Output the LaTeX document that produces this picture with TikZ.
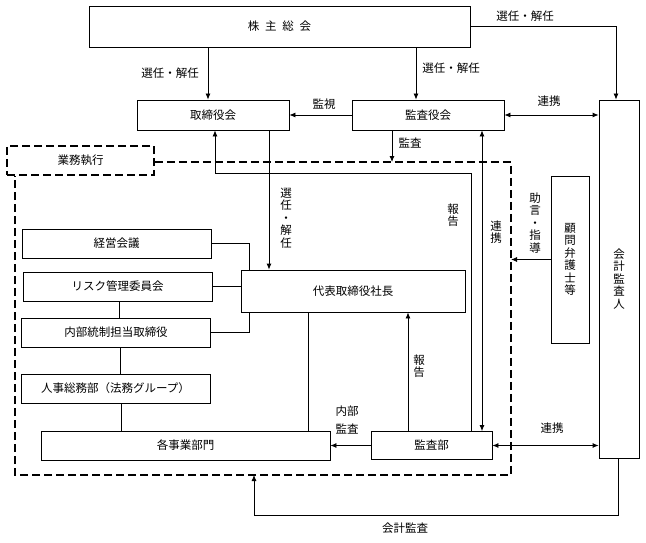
\documentclass[tikz,border=0pt]{standalone}
\usepackage{fontspec}
\setmainfont{Noto Sans CJK JP}
\usepackage{tikz}
\usetikzlibrary{arrows.meta}

\begin{document}
\begin{tikzpicture}[x=1pt, y=-1pt, line width=0.8pt,
    font=\fontsize{11.5}{12.5}\selectfont,
    box/.style={draw, inner sep=0pt},
    arr/.style={-{Latex[length=6pt, width=5pt]}},
    both/.style={{Latex[length=6pt, width=5pt]}-{Latex[length=6pt, width=5pt]}},
    area/.style={line width=1.6pt, dash pattern=on 8pt off 4pt}]
    \useasboundingbox (0, 0) rectangle (646, 543);

    % draw top boxes
    \node[box, minimum width=381pt, minimum height=41pt] (soukai) at (279.5, 26.5) {株\hspace{.5em}主\hspace{.5em}総\hspace{.5em}会};
    \node[box, minimum width=152pt, minimum height=30pt] (torishimari) at (213, 115) {取締役会};
    \node[box, minimum width=152pt, minimum height=30pt] (kansayaku) at (428, 115) {監査役会};
    \node[box, minimum width=40pt, minimum height=358pt, align=center] (kaikei) at (619, 279) {会\\計\\監\\査\\人};
    \node[box, minimum width=38pt, minimum height=167pt, align=center] (komon) at (570, 259.5) {顧\\問\\弁\\護\\士\\等};

    % draw business area
    \node[box, area, minimum width=147pt, minimum height=29pt] (gyomu) at (80.5, 160.5) {業務執行};
    \coordinate (ne) at (511, 162);
    \coordinate (se) at (511, 475);
    \coordinate (sw) at (15, 475);
    \draw[area] (gyomu.east |- ne) -- (ne) -- (se) -- (sw) -- (sw |- gyomu.south);

    % draw inner boxes
    \node[box, minimum width=189pt, minimum height=29pt] (keiei) at (116.5, 243.5) {経営会議};
    \node[box, minimum width=189pt, minimum height=29pt] (risk) at (117.5, 286.5) {リスク管理委員会};
    \node[box, minimum width=189pt, minimum height=29pt] (naibu) at (116, 332.5) {内部統制担当取締役};
    \node[box, minimum width=189pt, minimum height=29pt] (jinji) at (115.5, 388.5) {人事総務部（法務グループ）};
    \node[box, minimum width=289pt, minimum height=29pt] (jigyo) at (185.5, 445.5) {各事業部門};
    \node[box, minimum width=224pt, minimum height=42pt] (daihyo) at (353, 291) {代表取締役社長};
    \node[box, minimum width=121pt, minimum height=28pt] (kansabu) at (431.5, 445.5) {監査部};

    % draw arrows from the top
    \draw[arr] ([xshift=-5pt]torishimari.north |- soukai.south) -- ([xshift=-5pt]torishimari.north);
    \draw[arr] ([xshift=-12pt]kansayaku.north |- soukai.south) -- ([xshift=-12pt]kansayaku.north);
    \draw[arr] (soukai.east) -| ([xshift=-3pt]kaikei.north);
    \draw[arr] (kansayaku.west) -- (torishimari.east);
    \draw[both] (kansayaku.east) -- (kansayaku.east -| kaikei.west);
    \draw[arr] ([xshift=-36pt]kansayaku.south) -- ([xshift=-36pt]kansayaku.south |- ne);
    \draw[arr] ([xshift=56pt]torishimari.south) -- ([xshift=56pt]torishimari.south |- daihyo.north);

    % draw report lines
    \draw[arr] ([xshift=39.5pt]kansabu.north) |- ([xshift=2pt]torishimari.south |- 0, 173) -- ([xshift=2pt]torishimari.south);
    \draw[both] ([xshift=54pt]kansayaku.south) -- ([xshift=54pt]kansayaku.south |- kansabu.north);
    \draw[arr] ([xshift=-23.5pt]kansabu.north) -- ([xshift=-23.5pt]kansabu.north |- daihyo.south);
    \draw[arr] (kansabu.west) -- (kansabu.west -| jigyo.east);
    \draw[both] (kansabu.east) -- (kansabu.east -| kaikei.west);
    \draw[arr] (komon.west) -- (komon.west -| ne);
    \coordinate (kk) at (254, 475);
    \draw[arr] ([xshift=-1pt]kaikei.south) |- ([yshift=-40pt]kk) -- (kk);

    % draw plain links
    \draw (keiei.east) -| ([xshift=9pt]daihyo.north west);
    \draw (risk.east) -- (risk.east -| daihyo.west);
    \draw (naibu.east) -| ([xshift=9pt]daihyo.south west);
    \draw ([xshift=2pt]risk.south) -- ([xshift=2pt]risk.south |- naibu.north);
    \draw ([xshift=4pt]naibu.south) -- ([xshift=4pt]naibu.south |- jinji.north);
    \draw ([xshift=5.5pt]jinji.south) -- ([xshift=5.5pt]jinji.south |- jigyo.north);
    \draw ([xshift=68pt]daihyo.south west) -- ([xshift=68pt]daihyo.south west |- jigyo.north);

    % draw labels
    \node (l1) at (170, 73) {選任・解任};
    \node (l2) at (451, 68) {選任・解任};
    \node (l3) at (525, 16) {選任・解任};
    \node (l4) at (324, 104) {監視};
    \node (l5) at (549, 101) {連携};
    \node (l6) at (410, 143) {監査};
    \node[align=center] (l7) at (286, 218) {選\\任\\・\\解\\任};
    \node[align=center] (l8) at (453, 215) {報\\告};
    \node[align=center] (l9) at (496, 232) {連\\携};
    \node[align=center] (l10) at (535, 223) {助\\言\\・\\指\\導};
    \node[align=center] (l11) at (419, 366) {報\\告};
    \node[align=center] (l12) at (347, 420) {内部\\[6pt]監査};
    \node (l13) at (552, 428) {連携};
    \node (l14) at (405, 528) {会計監査};
\end{tikzpicture}
\end{document}
